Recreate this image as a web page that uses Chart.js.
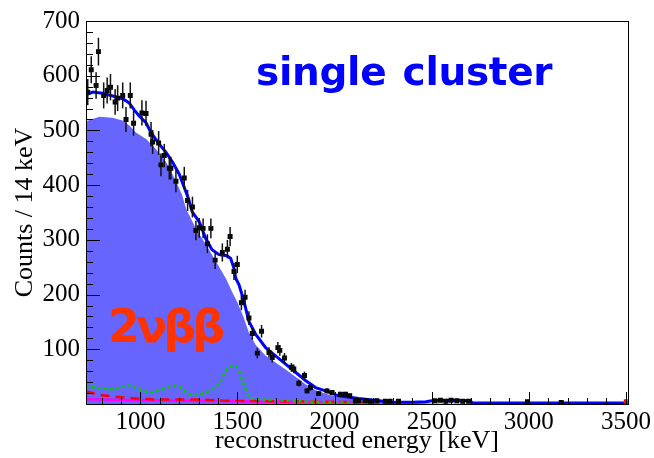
<!DOCTYPE html>
<html><head><meta charset="utf-8">
<script src="https://cdn.jsdelivr.net/npm/chart.js@4.4.1/dist/chart.umd.min.js"></script>
<style>
html,body{margin:0;padding:0;background:#fff;}
#wrap{position:relative;width:654px;height:458px;overflow:hidden;}
canvas{display:block;}
.lbl{position:absolute;font-family:"DejaVu Sans",sans-serif;font-weight:bold;white-space:pre;line-height:1;}
#t1{left:256px;top:52px;font-size:39px;color:#0000ff;word-spacing:3px;letter-spacing:-0.3px;}
#t2{left:108px;top:303px;font-size:46px;color:#ff3300;letter-spacing:-4px;}
</style></head><body>
<div id="wrap"><canvas id="c" width="654" height="458"></canvas>
<div class="lbl" id="t1">single cluster</div>
<div class="lbl" id="t2">2νββ</div></div>
<script>
// ---- data ----
const xTicks = [1000, 1500, 2000, 2500, 3000, 3500];
const yTicks = [100, 200, 300, 400, 500, 600, 700];

// 2nbb component (filled)
const fillE = [720,789,856,907,943,977,1031,1082,1133,1185,1215,1236,1287,1338,1390,1441,1472,1498,1530,1559,1594,1645,1696,1748,1799,1850,1902,1970,2057,2124,2200,2300,2400,2500,2700,3510];
const fillV = [517,525,523,518,509,496,484,465,442,406,382,356,320,291,260,229,205,187,160,130,108,88,76,63,50,36,25,17,11,8,5,3,2,1,0.5,0];

// total fit (blue)
const fitE = [720,755,806,858,909,943,969,995,1029,1055,1097,1132,1166,1200,1245,1267,1303,1337,1369,1405,1446,1465,1482,1491,1508,1530,1559,1594,1645,1696,1748,1799,1850,1902,1953,2021,2124,2227,2300,2400,2470,2500,2600,2697,2710,3510];
const fitV = [565,570,568,563,558,550,537,526,514,496,475,460,442,420,378,351,333,302,282,273,271,266,248,230,218,192,151,127,103,88,73,58,43,30,24,15,10,6,3,3,4,6,7,6,2,2];

// green dotted component
const greenE = [720,789,858,935,1003,1055,1114,1183,1243,1286,1363,1405,1440,1474,1499,1525,1551,1576,1645,1750,1900,2000,2200];
const greenV = [32,29,27,34,26,21,27,34,20,17,26,37,61,70,67,43,20,9,8,6,4,3,2];

// red dashed component
const redE = [720,789,858,943,1029,1132,1286,1460,1700,2000,2200];
const redV = [23,17,14,11,9,8,8,6,5,4,3];

// magenta component
const magE = [720,800,1000,1200,1500,1800,2100,2230];
const magV = [9,8,7,6,5,4,3,2];

// measured data points
const dataE = [729,747,772,784,811,829,846,870,883,909,926,948,965,1008,1029,1055,1063,1094,1106,1123,1149,1157,1183,1226,1243,1268,1286,1303,1323,1345,1363,1385,1422,1448,1462,1482,1499,1520,1539,1559,1576,1602,1624,1662,1679,1708,1718,1742,1778,1790,1816,1845,1858,1876,1918,1961,1987,2030,2056,2078,2107,2124,2158,2184,2218,2261,2286,2329,2517,2545,2573,2600,2630,2660,2690,2993,3167];
const dataV = [570,611,582,644,564,573,579,552,559,564,520,564,513,532,531,493,479,477,437,454,431,431,407,413,372,360,317,322,321,293,321,263,277,283,306,242,255,185,195,157,129,93,133,94,85,103,98,84,67,64,38,52,24,30,19,24,21,18,18,15,6,6,6,5,6,5,5,5,6,7,5,7,6,5,5,4,3];

// 0nbb marker
const markE = [3500];
const markV = [5];

const pts = (E, V) => E.map((e, i) => ({x: e, y: V[i]}));

const deco = {
  id: 'deco',
  afterDatasetsDraw(chart) {
    const {ctx, scales: {x, y}} = chart;
    ctx.save();
    ctx.strokeStyle = '#111';
    ctx.lineWidth = 1.5;
    dataE.forEach((e, i) => {
      const v = dataV[i], err = Math.sqrt(v);
      const px = x.getPixelForValue(e);
      ctx.beginPath();
      ctx.moveTo(px, y.getPixelForValue(v + err));
      ctx.lineTo(px, y.getPixelForValue(Math.max(v - err, 0)));
      ctx.stroke();
    });
    ctx.restore();
  },
  afterDraw(chart) {
    const {ctx, chartArea: a, scales: {x, y}} = chart;
    ctx.save();
    ctx.strokeStyle = '#000';
    ctx.lineWidth = 1;
    ctx.strokeRect(Math.round(a.left) + 0.5, Math.round(a.top) + 0.5, Math.round(a.right - a.left), Math.round(a.bottom - a.top));
    ctx.beginPath();
    for (let v = 0; v <= 700; v += 20) {
      const py = Math.round(y.getPixelForValue(v)) + 0.5;
      const len = (v % 100 === 0) ? 14 : 7;
      ctx.moveTo(a.left, py); ctx.lineTo(a.left + len, py);
    }
    for (let e = 800; e <= 3500; e += 100) {
      const px = Math.round(x.getPixelForValue(e)) + 0.5;
      const len = (e % 500 === 0) ? 12 : 6;
      ctx.moveTo(px, a.bottom); ctx.lineTo(px, a.bottom - len);
    }
    ctx.stroke();
    ctx.restore();
  }
};

const serif = 'Liberation Serif';
new Chart(document.getElementById('c'), {
  type: 'scatter',
  data: {
    datasets: [
      {type: 'scatter', label: 'data', data: pts(dataE, dataV), pointStyle: 'rect', pointRadius: 3.5, backgroundColor: '#000', borderColor: '#000', borderWidth: 0, order: 0},
      {type: 'scatter', label: '0nbb', data: pts(markE, markV), pointStyle: 'rect', pointRadius: 3, backgroundColor: '#ff0000', borderWidth: 0, order: 1},
      {type: 'line', label: 'fit', data: pts(fitE, fitV), borderColor: '#0000ff', borderWidth: 3, pointRadius: 0, fill: false, tension: 0, order: 2},
      {type: 'line', label: 'green', data: pts(greenE, greenV), borderColor: '#00cc00', borderWidth: 2.5, borderDash: [3, 3], pointRadius: 0, fill: false, cubicInterpolationMode: 'monotone', order: 3},
      {type: 'line', label: 'red', data: pts(redE, redV), borderColor: '#ff0000', borderWidth: 2.5, borderDash: [9, 6], pointRadius: 0, fill: false, cubicInterpolationMode: 'monotone', order: 4},
      {type: 'line', label: 'magenta', data: pts(magE, magV), borderColor: '#ff00ff', borderWidth: 2.5, pointRadius: 0, fill: false, cubicInterpolationMode: 'monotone', order: 5},
      {type: 'line', label: '2nbb', data: pts(fillE, fillV), borderColor: '#6666ff', borderWidth: 0, backgroundColor: '#6666ff', pointRadius: 0, fill: 'origin', tension: 0, order: 10}
    ]
  },
  options: {
    responsive: false,
    animation: false,
    devicePixelRatio: 1,
    layout: {padding: {top: 17, right: 24, left: 0, bottom: 0}},
    plugins: {legend: {display: false}, tooltip: {enabled: false}},
    scales: {
      x: {
        type: 'linear', min: 720, max: 3510,
        afterBuildTicks: s => { s.ticks = xTicks.map(v => ({value: v})); },
        afterFit: s => { s.height = 54; },
        grid: {display: false, drawTicks: false},
        border: {display: false},
        ticks: {color: '#000', font: {family: serif, size: 25}, padding: 3, maxRotation: 0, callback: v => String(v)},
        title: {display: true, text: 'reconstructed energy [keV]', color: '#000', font: {family: serif, size: 26}, padding: {top: 0, bottom: 1}}
      },
      y: {
        type: 'linear', min: 0, max: 700,
        afterBuildTicks: s => { s.ticks = yTicks.map(v => ({value: v})); },
        afterFit: s => { s.width = 86; },
        grid: {display: false, drawTicks: false},
        border: {display: false},
        ticks: {color: '#000', font: {family: serif, size: 25}, padding: 6, callback: v => String(v)},
        title: {display: true, text: 'Counts / 14 keV', color: '#000', font: {family: serif, size: 26}, padding: {top: 10, bottom: 0}}
      }
    }
  },
  plugins: [deco]
});
</script>
</body></html>
